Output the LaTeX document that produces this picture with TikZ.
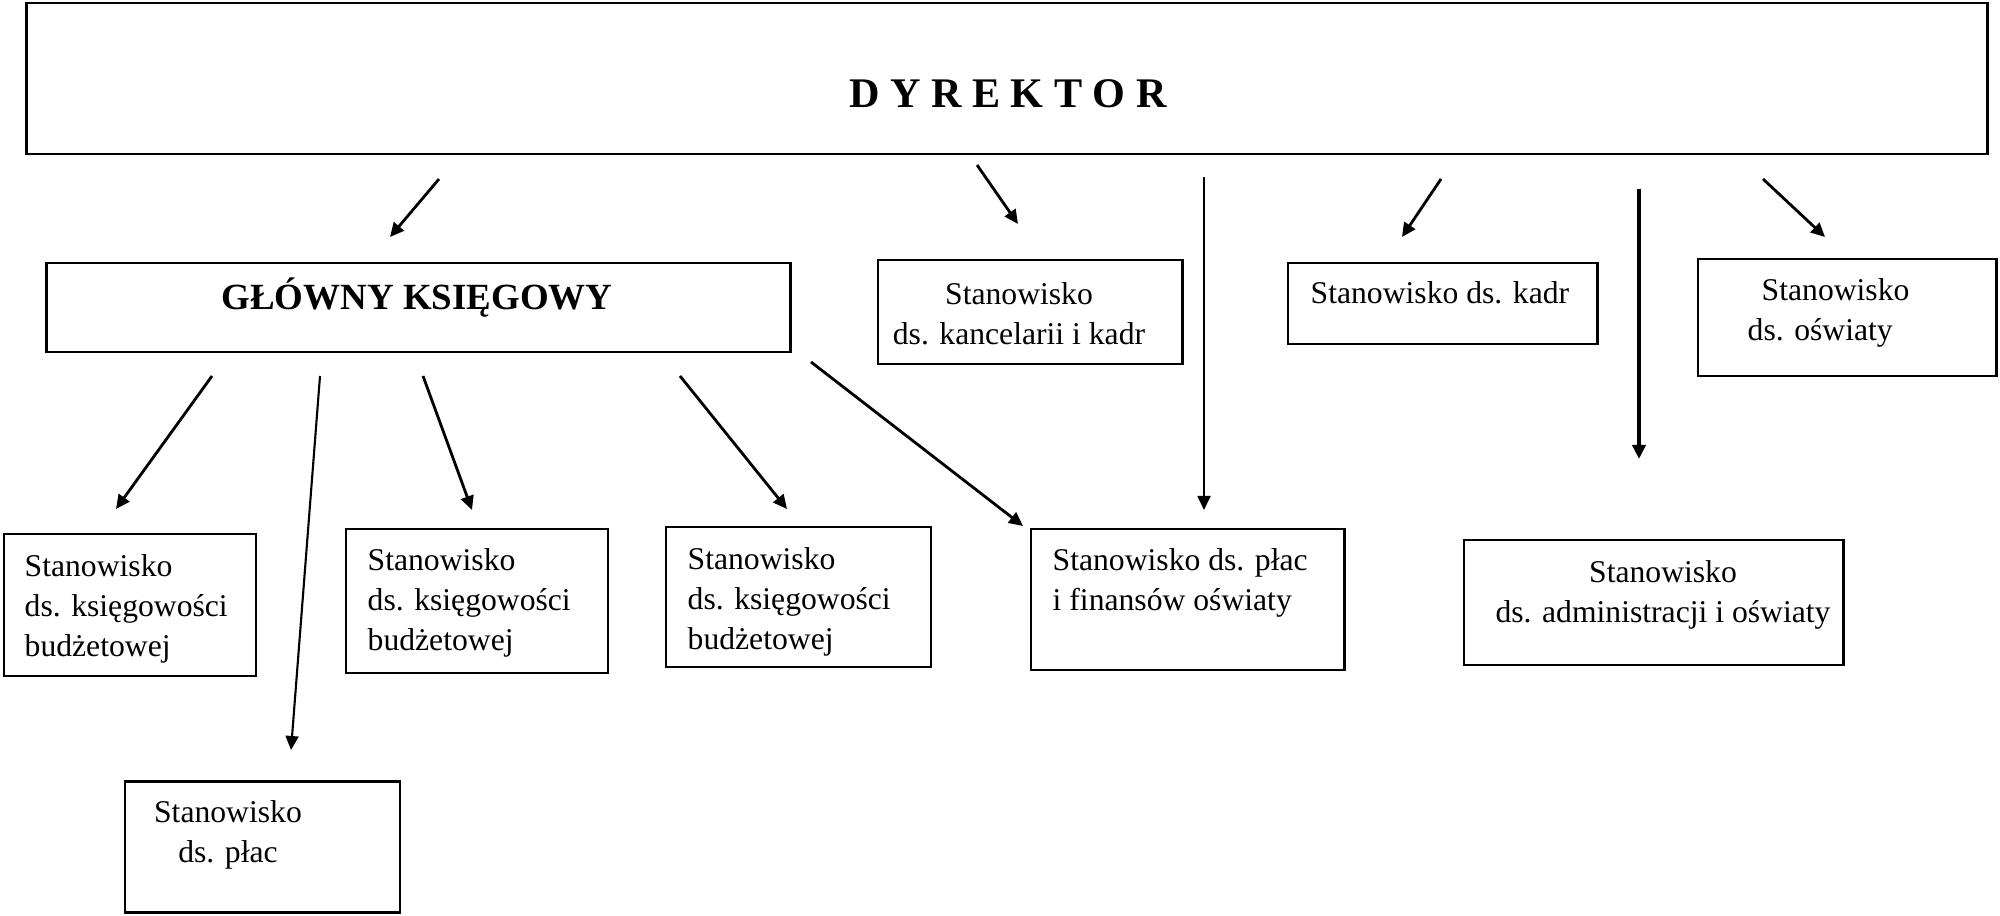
\documentclass[tikz,border=0pt]{standalone}
\usepackage{fontspec}
\setmainfont{Liberation Serif}
\usetikzlibrary{arrows.meta}

\begin{document}
\begin{tikzpicture}[x=0.01cm,y=-0.01cm,
  ramka/.style={draw,line width=0.8pt,inner sep=0pt,outer sep=0pt},
  opis/.style={inner sep=0pt,font=\fontsize{9}{11.4}\selectfont},
  strzalka/.style={line width=0.8pt,-{Triangle[length=0.14cm,width=0.13cm]}}]
\useasboundingbox (0,0) rectangle (2000,916);

% ramki
\node[ramka,minimum width=19.6cm,minimum height=1.51cm] (dyr) at (1007,78.5) {};
\node[ramka,minimum width=7.43cm,minimum height=0.89cm] (gk) at (418.5,307.5) {};
\node[ramka,minimum width=3.04cm,minimum height=1.04cm] (kanc) at (1030,312) {};
\node[ramka,minimum width=3.09cm,minimum height=0.81cm] (kadr) at (1442.5,303.5) {};
\node[ramka,minimum width=2.98cm,minimum height=1.17cm] (osw) at (1847,317.5) {};
\node[ramka,minimum width=2.52cm,minimum height=1.42cm] (ks1) at (130,605) {};
\node[ramka,minimum width=2.62cm,minimum height=1.44cm] (ks2) at (477,601) {};
\node[ramka,minimum width=2.65cm,minimum height=1.40cm] (ks3) at (798.5,597) {};
\node[ramka,minimum width=3.13cm,minimum height=1.41cm] (plfin) at (1187.5,599.5) {};
\node[ramka,minimum width=3.79cm,minimum height=1.25cm] (adm) at (1653.5,602.5) {};
\node[ramka,minimum width=2.75cm,minimum height=1.31cm] (plac) at (262.5,847) {};

% napisy
\node[inner sep=0pt,font=\fontsize{12}{14}\selectfont\bfseries] (dyr-t) at (1008,94) {D Y R E K T O R};
\node[inner sep=0pt,anchor=base,font=\fontsize{10.5}{12}\selectfont\bfseries] (gk-t) at (417,310) {GŁÓWNY KSIĘGOWY};
\node[opis,anchor=north,align=center] (kanc-t) at (1019,282) {Stanowisko\\ds. kancelarii i kadr};
\node[opis,anchor=north west] (kadr-t) at (1310,281) {Stanowisko ds. kadr};
\node[opis,anchor=north west,align=left] (osw-t) at (1747,278) {\hspace{0.14cm}Stanowisko\\ds. oświaty};
\node[opis,anchor=north west,align=left] (ks1-t) at (24,554) {Stanowisko\\ds. księgowości\\budżetowej};
\node[opis,anchor=north west,align=left] (ks2-t) at (367,548) {Stanowisko\\ds. księgowości\\budżetowej};
\node[opis,anchor=north west,align=left] (ks3-t) at (687,547) {Stanowisko\\ds. księgowości\\budżetowej};
\node[opis,anchor=north west,align=left] (plfin-t) at (1052,548) {Stanowisko ds. płac\\i finansów oświaty};
\node[opis,anchor=north,align=center] (adm-t) at (1663,560) {Stanowisko\\ds. administracji i oświaty};
\node[opis,anchor=north,align=center] (plac-t) at (228,800) {Stanowisko\\ds. płac};

% strzalki od dyrektora
\coordinate (d1) at (439,179);  \coordinate (d1k) at (390,237);
\coordinate (d2) at (977,165);  \coordinate (d2k) at (1018,224);
\coordinate (d3) at (1204,177); \coordinate (d3k) at (1204,510);
\coordinate (d4) at (1441,179); \coordinate (d4k) at (1402,237);
\coordinate (d5) at (1639,189); \coordinate (d5k) at (1639,459);
\coordinate (d6) at (1763,179); \coordinate (d6k) at (1825,237);
\draw[strzalka] (d1) -- (d1k);
\draw[strzalka] (d2) -- (d2k);
\draw[strzalka,line width=0.5pt] (d3) -- (d3k);
\draw[strzalka] (d4) -- (d4k);
\draw[strzalka,line width=1pt] (d5) -- (d5k);
\draw[strzalka] (d6) -- (d6k);

% strzalki od glownego ksiegowego
\coordinate (g1) at (212,376); \coordinate (g1k) at (116,509);
\coordinate (g2) at (320,376); \coordinate (g2k) at (291,750);
\coordinate (g3) at (423,376); \coordinate (g3k) at (472,510);
\coordinate (g4) at (680,376); \coordinate (g4k) at (787,509);
\coordinate (g5) at (811,362); \coordinate (g5k) at (1023,526);
\draw[strzalka] (g1) -- (g1k);
\draw[strzalka,line width=0.6pt] (g2) -- (g2k);
\draw[strzalka] (g3) -- (g3k);
\draw[strzalka] (g4) -- (g4k);
\draw[strzalka] (g5) -- (g5k);
\end{tikzpicture}
\end{document}
